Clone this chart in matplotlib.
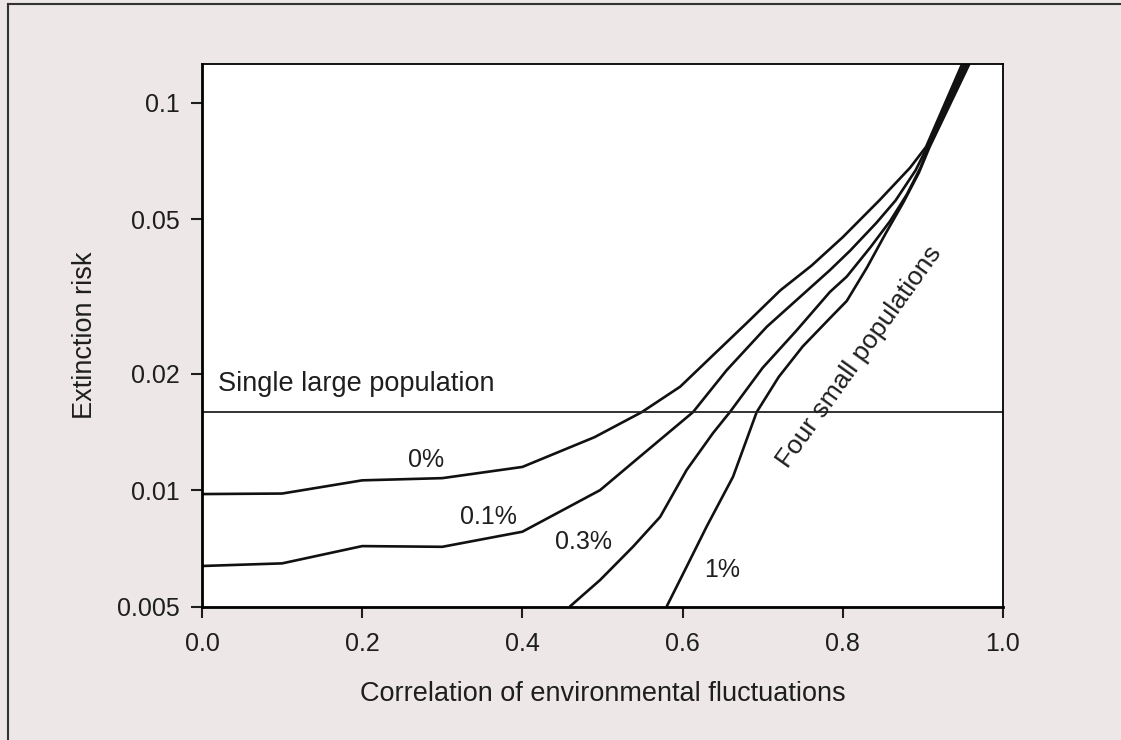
import matplotlib
matplotlib.use("Agg")
import matplotlib.pyplot as plt
from matplotlib.lines import Line2D
import numpy as np

plt.rcParams['font.family'] = ['Liberation Sans', 'DejaVu Sans']

# Extinction risk (x = correlation)
x_0 = [0.0, 0.1, 0.2, 0.3, 0.4, 0.49, 0.549, 0.597, 0.634, 0.68, 0.722, 0.761, 0.8, 0.846, 0.884, 0.904, 0.949]
y_0 = [0.00977, 0.0098, 0.0106, 0.01074, 0.01148, 0.0137, 0.0159, 0.0185, 0.0219, 0.027, 0.0328, 0.0380, 0.045, 0.0561, 0.068, 0.077, 0.126]

x_01 = [0.0, 0.1, 0.2, 0.3, 0.4, 0.497, 0.547, 0.613, 0.655, 0.705, 0.738, 0.784, 0.809, 0.842, 0.866, 0.891, 0.9055, 0.952]
y_01 = [0.00637, 0.00647, 0.00717, 0.00714, 0.00781, 0.0100, 0.01222, 0.0159, 0.0204, 0.0264, 0.0304, 0.0370, 0.0415, 0.049, 0.056, 0.067, 0.077, 0.126]

x_03 = [0.459, 0.497, 0.538, 0.572, 0.605, 0.638, 0.659, 0.700, 0.742, 0.784, 0.805, 0.835, 0.859, 0.880, 0.897, 0.907, 0.955]
y_03 = [0.005, 0.00586, 0.00714, 0.00853, 0.01127, 0.01404, 0.0159, 0.0207, 0.0258, 0.0325, 0.0356, 0.0425, 0.0495, 0.058, 0.068, 0.077, 0.126]

x_1 = [0.58, 0.605, 0.630, 0.663, 0.6925, 0.72, 0.75, 0.784, 0.805, 0.83, 0.853, 0.876, 0.895, 0.9085, 0.958]
y_1 = [0.005, 0.00634, 0.00805, 0.01083, 0.0159, 0.0196, 0.0235, 0.0278, 0.0308, 0.0375, 0.0458, 0.0555, 0.066, 0.077, 0.126]

single_large = 0.0159

curve_labels = ["0%", "0.1%", "0.3%", "1%"]
label_x = [0.280, 0.357, 0.476, 0.649]
label_y = [0.01197, 0.00853, 0.00735, 0.00622]

y_ticks = [0.005, 0.01, 0.02, 0.05, 0.1]
y_ticklabels = ["0.005", "0.01", "0.02", "0.05", "0.1"]
x_ticks = [0.0, 0.2, 0.4, 0.6, 0.8, 1.0]

bg = "#ede7e7"
ink = "#1e1e1e"
fig = plt.figure(figsize=(11.21, 7.40), dpi=100, facecolor=bg)
ax = fig.add_axes([0.1802, 0.1801, 0.7145, 0.7334])
ax.set_facecolor("white")

for xs, ys in zip([x_0, x_01, x_03, x_1], [y_0, y_01, y_03, y_1]):
    ax.plot(xs, ys, color="#111111", lw=1.9, solid_joinstyle="round", solid_capstyle="butt")
ax.axhline(single_large, color="#222222", lw=1.3)

ax.set_yscale("log")
ax.set_xlim(0, 1.0)
ax.set_ylim(0.005, 0.126)
ax.set_yticks(y_ticks)
ax.set_yticklabels(y_ticklabels)
ax.yaxis.set_minor_locator(matplotlib.ticker.NullLocator())
ax.set_xticks(x_ticks)
ax.set_xticklabels([f"{v:.1f}" for v in x_ticks])
ax.tick_params(axis="both", length=8, width=1.5, labelsize=18, colors=ink)
ax.tick_params(axis="x", pad=10)
ax.tick_params(axis="y", pad=8)

for side in ["left", "bottom"]:
    ax.spines[side].set_linewidth(2)
for side in ["top", "right"]:
    ax.spines[side].set_linewidth(1.3)

ax.set_ylabel("Extinction risk", fontsize=19.5, labelpad=14, color=ink)
ax.set_xlabel("Correlation of environmental fluctuations", fontsize=19.5, labelpad=18, color=ink)

for lab, lx, ly in zip(curve_labels, label_x, label_y):
    ax.text(lx, ly, lab, fontsize=18, ha="center", va="center", color=ink)
ax.text(0.02, 0.0188, "Single large population", fontsize=19.5, ha="left", va="center", color=ink)
ax.text(0.821, 0.0221, "Four small populations", fontsize=19, rotation=54.5,
        rotation_mode="anchor", ha="center", va="center", color=ink)

# frame lines at left and top of picture
fig.add_artist(Line2D([0.007, 0.007], [0, 0.995], transform=fig.transFigure, color="#333333", lw=1.5))
fig.add_artist(Line2D([0.007, 1.0], [0.995, 0.995], transform=fig.transFigure, color="#333333", lw=1.5))

fig.savefig("out.png", dpi=100, facecolor=bg)
